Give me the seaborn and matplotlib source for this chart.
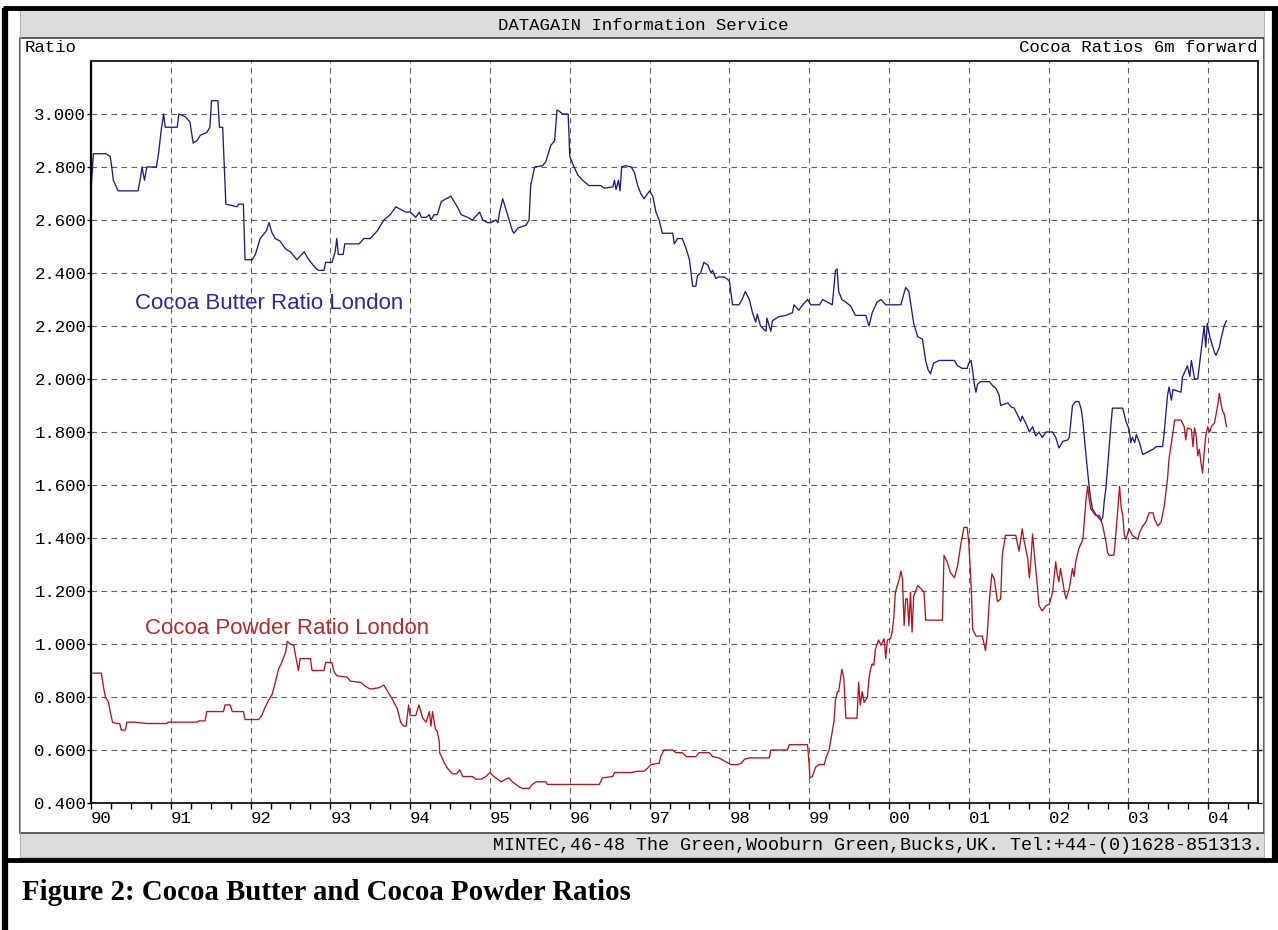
import matplotlib
matplotlib.use('Agg')
import matplotlib.pyplot as plt
from matplotlib.patches import Rectangle
from matplotlib.ticker import FixedLocator, MultipleLocator, FormatStrFormatter
import pandas as pd
import seaborn as sns

# values (decimal year, ratio)
butter_year = [
    1990.00, 1990.03, 1990.19, 1990.24, 1990.26, 1990.28, 1990.34, 1990.59, 1990.62, 1990.64,
    1990.67, 1990.70, 1990.82, 1990.85, 1990.88, 1990.91, 1990.93, 1991.08, 1991.10, 1991.18,
    1991.24, 1991.28, 1991.33, 1991.37, 1991.45, 1991.49, 1991.51, 1991.59, 1991.61, 1991.65,
    1991.67, 1991.69, 1991.83, 1991.85, 1991.91, 1991.93, 1992.02, 1992.06, 1992.12, 1992.20,
    1992.23, 1992.27, 1992.31, 1992.37, 1992.44, 1992.50, 1992.58, 1992.67, 1992.73, 1992.81,
    1992.85, 1992.92, 1992.94, 1993.02, 1993.06, 1993.08, 1993.10, 1993.16, 1993.18, 1993.36,
    1993.42, 1993.50, 1993.59, 1993.67, 1993.75, 1993.82, 1993.88, 1993.94, 1994.00, 1994.07,
    1994.115, 1994.14, 1994.20, 1994.24, 1994.26, 1994.30, 1994.34, 1994.39, 1994.45, 1994.51,
    1994.59, 1994.64, 1994.72, 1994.78, 1994.87, 1994.91, 1994.97, 1995.01, 1995.075, 1995.10,
    1995.12, 1995.16, 1995.19, 1995.24, 1995.28, 1995.30, 1995.35, 1995.45, 1995.49, 1995.51,
    1995.56, 1995.66, 1995.70, 1995.76, 1995.81, 1995.83, 1995.84, 1995.87, 1995.91, 1995.98,
    1996.00, 1996.04, 1996.10, 1996.16, 1996.24, 1996.33, 1996.39, 1996.43, 1996.54, 1996.56,
    1996.58, 1996.61, 1996.63, 1996.65, 1996.70, 1996.77, 1996.81, 1996.85, 1996.89, 1996.93,
    1997.00, 1997.04, 1997.08, 1997.12, 1997.16, 1997.29, 1997.31, 1997.35, 1997.41, 1997.46,
    1997.50, 1997.52, 1997.54, 1997.58, 1997.60, 1997.64, 1997.68, 1997.73, 1997.77, 1997.79,
    1997.83, 1997.87, 1997.94, 1998.00, 1998.04, 1998.12, 1998.16, 1998.20, 1998.25, 1998.29,
    1998.33, 1998.35, 1998.39, 1998.46, 1998.47, 1998.52, 1998.54, 1998.62, 1998.71, 1998.79,
    1998.81, 1998.87, 1998.92, 1998.98, 1999.02, 1999.13, 1999.17, 1999.29, 1999.33, 1999.35,
    1999.37, 1999.41, 1999.46, 1999.52, 1999.58, 1999.71, 1999.75, 1999.79, 1999.85, 1999.90,
    1999.96, 2000.15, 2000.19, 2000.21, 2000.25, 2000.27, 2000.31, 2000.36, 2000.42, 2000.46,
    2000.49, 2000.52, 2000.56, 2000.63, 2000.82, 2000.86, 2000.92, 2000.98, 2001.00, 2001.03,
    2001.05, 2001.07, 2001.09, 2001.11, 2001.15, 2001.26, 2001.30, 2001.34, 2001.38, 2001.40,
    2001.49, 2001.53, 2001.57, 2001.61, 2001.65, 2001.67, 2001.72, 2001.76, 2001.80, 2001.84,
    2001.88, 2001.92, 2001.97, 2002.05, 2002.09, 2002.13, 2002.18, 2002.24, 2002.26, 2002.30,
    2002.34, 2002.38, 2002.41, 2002.43, 2002.47, 2002.49, 2002.51, 2002.53, 2002.55, 2002.59,
    2002.66, 2002.68, 2002.70, 2002.72, 2002.76, 2002.78, 2002.80, 2002.93, 2002.97, 2003.01,
    2003.03, 2003.05, 2003.08, 2003.10, 2003.14, 2003.18, 2003.31, 2003.35, 2003.43, 2003.45,
    2003.49, 2003.51, 2003.54, 2003.56, 2003.66, 2003.68, 2003.72, 2003.74, 2003.77, 2003.79,
    2003.83, 2003.87, 2003.91, 2003.95, 2003.97, 2003.99, 2004.02, 2004.04, 2004.08, 2004.10,
    2004.14, 2004.16, 2004.20, 2004.23,
]
butter_ratio = [
    2.71, 2.85, 2.85, 2.84, 2.80, 2.75, 2.71, 2.71, 2.76, 2.80,
    2.75, 2.80, 2.80, 2.86, 2.94, 3.00, 2.95, 2.95, 3.00, 2.99,
    2.97, 2.89, 2.90, 2.92, 2.93, 2.95, 3.05, 3.05, 2.95, 2.95,
    2.80, 2.66, 2.65, 2.66, 2.66, 2.45, 2.45, 2.47, 2.53, 2.56,
    2.59, 2.55, 2.53, 2.52, 2.49, 2.48, 2.45, 2.48, 2.45, 2.42,
    2.41, 2.41, 2.44, 2.44, 2.48, 2.53, 2.47, 2.47, 2.51, 2.51,
    2.53, 2.53, 2.56, 2.60, 2.62, 2.65, 2.64, 2.63, 2.63, 2.61,
    2.63, 2.61, 2.61, 2.62, 2.60, 2.62, 2.62, 2.67, 2.68, 2.69,
    2.65, 2.62, 2.61, 2.60, 2.63, 2.60, 2.59, 2.59, 2.60, 2.59,
    2.63, 2.68, 2.65, 2.60, 2.56, 2.55, 2.57, 2.58, 2.60, 2.73,
    2.80, 2.805, 2.82, 2.88, 2.90, 2.98, 3.015, 3.01, 3.00, 3.00,
    2.84, 2.81, 2.77, 2.75, 2.73, 2.73, 2.73, 2.72, 2.725, 2.75,
    2.715, 2.75, 2.71, 2.80, 2.805, 2.80, 2.78, 2.73, 2.70, 2.68,
    2.71, 2.69, 2.63, 2.60, 2.55, 2.55, 2.51, 2.53, 2.53, 2.49,
    2.45, 2.40, 2.35, 2.35, 2.39, 2.40, 2.44, 2.43, 2.40, 2.41,
    2.38, 2.385, 2.385, 2.37, 2.28, 2.28, 2.30, 2.33, 2.30, 2.25,
    2.215, 2.245, 2.20, 2.18, 2.23, 2.18, 2.22, 2.235, 2.24, 2.25,
    2.28, 2.26, 2.28, 2.30, 2.28, 2.28, 2.30, 2.28, 2.41, 2.415,
    2.33, 2.30, 2.29, 2.275, 2.24, 2.24, 2.20, 2.25, 2.29, 2.30,
    2.28, 2.28, 2.325, 2.345, 2.33, 2.29, 2.21, 2.16, 2.15, 2.07,
    2.035, 2.02, 2.06, 2.07, 2.07, 2.05, 2.04, 2.04, 2.06, 2.07,
    2.03, 1.98, 1.95, 1.98, 1.99, 1.99, 1.975, 1.965, 1.94, 1.90,
    1.91, 1.895, 1.89, 1.865, 1.84, 1.86, 1.83, 1.80, 1.82, 1.785,
    1.80, 1.78, 1.80, 1.80, 1.78, 1.74, 1.765, 1.77, 1.78, 1.90,
    1.915, 1.915, 1.885, 1.84, 1.71, 1.65, 1.59, 1.545, 1.51, 1.49,
    1.465, 1.48, 1.545, 1.59, 1.745, 1.82, 1.89, 1.89, 1.84, 1.81,
    1.76, 1.78, 1.76, 1.79, 1.76, 1.715, 1.735, 1.745, 1.745, 1.80,
    1.935, 1.97, 1.92, 1.96, 1.95, 2.01, 2.035, 2.05, 2.01, 2.07,
    2.00, 2.00, 2.10, 2.20, 2.12, 2.21, 2.16, 2.14, 2.10, 2.09,
    2.12, 2.15, 2.20, 2.22,
]

powder_year = [
    1990.00, 1990.13, 1990.155, 1990.18, 1990.22, 1990.24, 1990.27, 1990.32, 1990.36, 1990.38,
    1990.43, 1990.45, 1990.55, 1990.70, 1990.95, 1990.97, 1991.33, 1991.35, 1991.43, 1991.45,
    1991.66, 1991.68, 1991.745, 1991.77, 1991.91, 1991.93, 1992.10, 1992.14, 1992.18, 1992.23,
    1992.27, 1992.31, 1992.35, 1992.39, 1992.44, 1992.46, 1992.50, 1992.54, 1992.58, 1992.60,
    1992.62, 1992.75, 1992.77, 1992.92, 1992.94, 1993.02, 1993.04, 1993.08, 1993.21, 1993.25,
    1993.38, 1993.44, 1993.50, 1993.61, 1993.67, 1993.71, 1993.77, 1993.84, 1993.88, 1993.92,
    1993.95, 1993.98, 1994.00, 1994.07, 1994.11, 1994.157, 1994.20, 1994.24, 1994.26, 1994.28,
    1994.315, 1994.34, 1994.365, 1994.37, 1994.40, 1994.43, 1994.47, 1994.53, 1994.58, 1994.62,
    1994.66, 1994.78, 1994.82, 1994.89, 1994.95, 1995.00, 1995.05, 1995.14, 1995.20, 1995.24,
    1995.28, 1995.37, 1995.41, 1995.49, 1995.53, 1995.58, 1995.70, 1995.72, 1996.37, 1996.41,
    1996.54, 1996.56, 1996.70, 1996.77, 1996.85, 1996.93, 1996.97, 1997.02, 1997.12, 1997.14,
    1997.18, 1997.29, 1997.33, 1997.41, 1997.46, 1997.58, 1997.62, 1997.75, 1997.79, 1997.87,
    1997.96, 1998.02, 1998.10, 1998.15, 1998.19, 1998.25, 1998.50, 1998.52, 1998.73, 1998.75,
    1998.98, 1999.00, 1999.01, 1999.04, 1999.08, 1999.12, 1999.19, 1999.21, 1999.25, 1999.31,
    1999.33, 1999.355, 1999.37, 1999.41, 1999.435, 1999.46, 1999.60, 1999.62, 1999.64, 1999.665,
    1999.69, 1999.73, 1999.75, 1999.77, 1999.79, 1999.81, 1999.83, 1999.87, 1999.90, 1999.94,
    1999.96, 1999.98, 2000.02, 2000.04, 2000.06, 2000.08, 2000.13, 2000.15, 2000.17, 2000.19,
    2000.21, 2000.23, 2000.25, 2000.27, 2000.29, 2000.31, 2000.36, 2000.40, 2000.44, 2000.46,
    2000.67, 2000.69, 2000.73, 2000.77, 2000.82, 2000.86, 2000.90, 2000.94, 2000.98, 2001.00,
    2001.03, 2001.05, 2001.09, 2001.17, 2001.21, 2001.23, 2001.26, 2001.29, 2001.32, 2001.36,
    2001.40, 2001.42, 2001.46, 2001.59, 2001.63, 2001.67, 2001.69, 2001.74, 2001.76, 2001.78,
    2001.80, 2001.82, 2001.86, 2001.88, 2001.92, 2001.97, 2002.01, 2002.05, 2002.09, 2002.11,
    2002.13, 2002.15, 2002.20, 2002.22, 2002.26, 2002.30, 2002.32, 2002.34, 2002.38, 2002.43,
    2002.45, 2002.47, 2002.49, 2002.51, 2002.53, 2002.59, 2002.64, 2002.68, 2002.72, 2002.74,
    2002.76, 2002.82, 2002.845, 2002.87, 2002.89, 2002.91, 2002.93, 2002.95, 2002.97, 2003.01,
    2003.05, 2003.12, 2003.14, 2003.18, 2003.22, 2003.26, 2003.31, 2003.33, 2003.37, 2003.41,
    2003.45, 2003.49, 2003.51, 2003.56, 2003.58, 2003.66, 2003.70, 2003.72, 2003.74, 2003.79,
    2003.81, 2003.83, 2003.85, 2003.87, 2003.89, 2003.91, 2003.93, 2003.95, 2003.97, 2003.995,
    2004.02, 2004.04, 2004.08, 2004.12, 2004.14, 2004.16, 2004.18, 2004.20, 2004.23,
]
powder_ratio = [
    0.89, 0.89, 0.84, 0.80, 0.78, 0.745, 0.705, 0.70, 0.70, 0.675,
    0.675, 0.705, 0.705, 0.70, 0.70, 0.705, 0.705, 0.71, 0.71, 0.745,
    0.745, 0.77, 0.77, 0.745, 0.745, 0.715, 0.715, 0.73, 0.76, 0.79,
    0.81, 0.855, 0.905, 0.93, 0.97, 1.01, 1.00, 0.995, 0.93, 0.90,
    0.945, 0.945, 0.90, 0.90, 0.93, 0.93, 0.90, 0.88, 0.875, 0.86,
    0.855, 0.84, 0.83, 0.835, 0.845, 0.825, 0.795, 0.755, 0.705, 0.69,
    0.69, 0.77, 0.73, 0.73, 0.77, 0.72, 0.705, 0.745, 0.69, 0.745,
    0.68, 0.67, 0.63, 0.59, 0.57, 0.55, 0.53, 0.51, 0.51, 0.525,
    0.50, 0.50, 0.49, 0.49, 0.50, 0.515, 0.50, 0.48, 0.49, 0.495,
    0.48, 0.46, 0.455, 0.455, 0.47, 0.48, 0.48, 0.47, 0.47, 0.495,
    0.50, 0.515, 0.515, 0.515, 0.52, 0.52, 0.53, 0.545, 0.55, 0.575,
    0.60, 0.60, 0.59, 0.59, 0.575, 0.575, 0.59, 0.59, 0.575, 0.57,
    0.555, 0.545, 0.545, 0.55, 0.565, 0.57, 0.57, 0.60, 0.60, 0.62,
    0.62, 0.545, 0.495, 0.50, 0.535, 0.545, 0.545, 0.57, 0.60, 0.705,
    0.79, 0.82, 0.82, 0.905, 0.87, 0.72, 0.72, 0.855, 0.77, 0.82,
    0.78, 0.80, 0.87, 0.905, 0.925, 0.92, 0.98, 1.015, 0.995, 1.02,
    0.945, 1.015, 1.02, 1.045, 1.095, 1.195, 1.245, 1.275, 1.245, 1.07,
    1.17, 1.17, 1.07, 1.195, 1.045, 1.18, 1.22, 1.21, 1.195, 1.09,
    1.09, 1.335, 1.31, 1.27, 1.25, 1.295, 1.375, 1.44, 1.44, 1.385,
    1.22, 1.055, 1.03, 1.03, 0.975, 1.03, 1.17, 1.265, 1.245, 1.16,
    1.17, 1.335, 1.41, 1.41, 1.35, 1.435, 1.395, 1.32, 1.25, 1.32,
    1.415, 1.345, 1.22, 1.145, 1.125, 1.145, 1.15, 1.195, 1.31, 1.26,
    1.235, 1.285, 1.195, 1.17, 1.21, 1.285, 1.255, 1.31, 1.36, 1.395,
    1.47, 1.545, 1.595, 1.545, 1.51, 1.485, 1.485, 1.445, 1.385, 1.345,
    1.335, 1.335, 1.42, 1.52, 1.595, 1.515, 1.485, 1.41, 1.395, 1.435,
    1.41, 1.395, 1.42, 1.445, 1.46, 1.495, 1.495, 1.47, 1.445, 1.46,
    1.52, 1.62, 1.70, 1.80, 1.845, 1.845, 1.82, 1.77, 1.815, 1.81,
    1.745, 1.815, 1.785, 1.71, 1.735, 1.685, 1.645, 1.72, 1.785, 1.82,
    1.80, 1.82, 1.835, 1.90, 1.945, 1.91, 1.88, 1.87, 1.82,
]

year_ticks = list(range(1990, 2005))
year_labels = ['90', '91', '92', '93', '94', '95', '96', '97', '98', '99',
               '00', '01', '02', '03', '04']
ratio_ticks = [0.4, 0.6, 0.8, 1.0, 1.2, 1.4, 1.6, 1.8, 2.0, 2.2, 2.4, 2.6, 2.8, 3.0]

butter = pd.DataFrame({'year': butter_year, 'ratio': butter_ratio})
powder = pd.DataFrame({'year': powder_year, 'ratio': powder_ratio})

sns.set_theme(style='white')
plt.rcParams['font.family'] = ['Liberation Mono', 'DejaVu Sans']
plt.rcParams['text.color'] = 'black'
plt.rcParams['xtick.color'] = 'black'
plt.rcParams['ytick.color'] = 'black'

W, H = 1278, 930
fig = plt.figure(figsize=(W / 100, H / 100), dpi=100)
fig.patch.set_facecolor('white')

# frame / panel drawn in pixel space
bg = fig.add_axes([0, 0, 1, 1], zorder=0)
bg.set_xlim(0, W)
bg.set_ylim(H, 0)
bg.axis('off')
panel_grey = '#dcdcdc'
bg.add_patch(Rectangle((20, 10), 1244, 28, facecolor=panel_grey, edgecolor='none'))
bg.add_patch(Rectangle((20, 833), 1244, 24, facecolor=panel_grey, edgecolor='none'))
bg.add_patch(Rectangle((20, 38), 1244, 795, facecolor='white', edgecolor='#333333', linewidth=1.1))
bg.add_patch(Rectangle((20, 10), 1244, 847, facecolor='none', edgecolor='#aaaaaa', linewidth=0.6))
# thick outer border
bg.plot([5, 5], [8, H], color='black', linewidth=4.5, solid_capstyle='butt')
bg.plot([1275, 1275], [8, 860], color='black', linewidth=4.5, solid_capstyle='butt')
bg.plot([3, W], [8, 8], color='black', linewidth=3.5, solid_capstyle='butt')
bg.plot([3, W], [859.5, 859.5], color='black', linewidth=3.5, solid_capstyle='butt')

mono = 12.5
bg.text(643, 25, 'DATAGAIN Information Service', ha='center', va='center', fontsize=mono)
bg.text(25, 48, 'Ratio', ha='left', va='center', fontsize=mono)
bg.text(1258, 48, 'Cocoa Ratios 6m forward', ha='right', va='center', fontsize=mono)
bg.text(1263, 845, 'MINTEC,46-48 The Green,Wooburn Green,Bucks,UK. Tel:+44-(0)1628-851313.',
        ha='right', va='center', fontsize=13.2)
bg.text(22, 892, 'Figure 2: Cocoa Butter and Cocoa Powder Ratios', ha='left', va='center',
        fontsize=20.8, fontweight='bold', color='black', family=['Liberation Serif', 'DejaVu Serif'])

# main chart
ax = fig.add_axes([91 / W, 1 - 803 / H, (1258 - 91) / W, (803 - 61) / H], zorder=1)
ax.set_facecolor('white')

blue = '#1c1c86'
red = '#b3141c'
sns.lineplot(data=butter, x='year', y='ratio', ax=ax, color=blue, linewidth=0.95,
             estimator=None, sort=False)
sns.lineplot(data=powder, x='year', y='ratio', ax=ax, color=red, linewidth=0.95,
             estimator=None, sort=False)

ax.set_xlim(1990, 2004.625)
ax.set_ylim(0.4, 3.2)
ax.xaxis.set_major_locator(FixedLocator(year_ticks))
ax.set_xticklabels(year_labels, ha='left')
ax.xaxis.set_minor_locator(MultipleLocator(0.25))
ax.yaxis.set_major_locator(FixedLocator(ratio_ticks))
ax.yaxis.set_major_formatter(FormatStrFormatter('%.3f'))
ax.set_xlabel('')
ax.set_ylabel('')

ax.grid(True, which='major', linestyle=(0, (5, 4)), color='#5e5e5e', linewidth=0.8)
ax.tick_params(axis='x', which='both', direction='out', length=4, width=1, color='black',
               labelsize=mono, pad=2, bottom=True)
ax.tick_params(axis='y', which='major', direction='out', length=3, width=1, color='black',
               labelsize=mono, pad=0.5, left=True, right=True)
ax.spines['left'].set_color('black')
ax.spines['left'].set_linewidth(1.6)
ax.spines['bottom'].set_color('black')
ax.spines['bottom'].set_linewidth(1.2)
for side in ['top', 'right']:
    ax.spines[side].set_color('#222222')
    ax.spines[side].set_linewidth(1.4)
    ax.spines[side].set_visible(True)

label_font = ['Liberation Sans', 'DejaVu Sans']
ax.text(1990.55, 2.285, 'Cocoa Butter Ratio London', color='#2a2a9a', fontsize=16,
        family=label_font, ha='left', va='center')
ax.text(1990.68, 1.06, 'Cocoa Powder Ratio London', color='#b52a2a', fontsize=16,
        family=label_font, ha='left', va='center')

fig.savefig('out.png', dpi=100, facecolor='white')
